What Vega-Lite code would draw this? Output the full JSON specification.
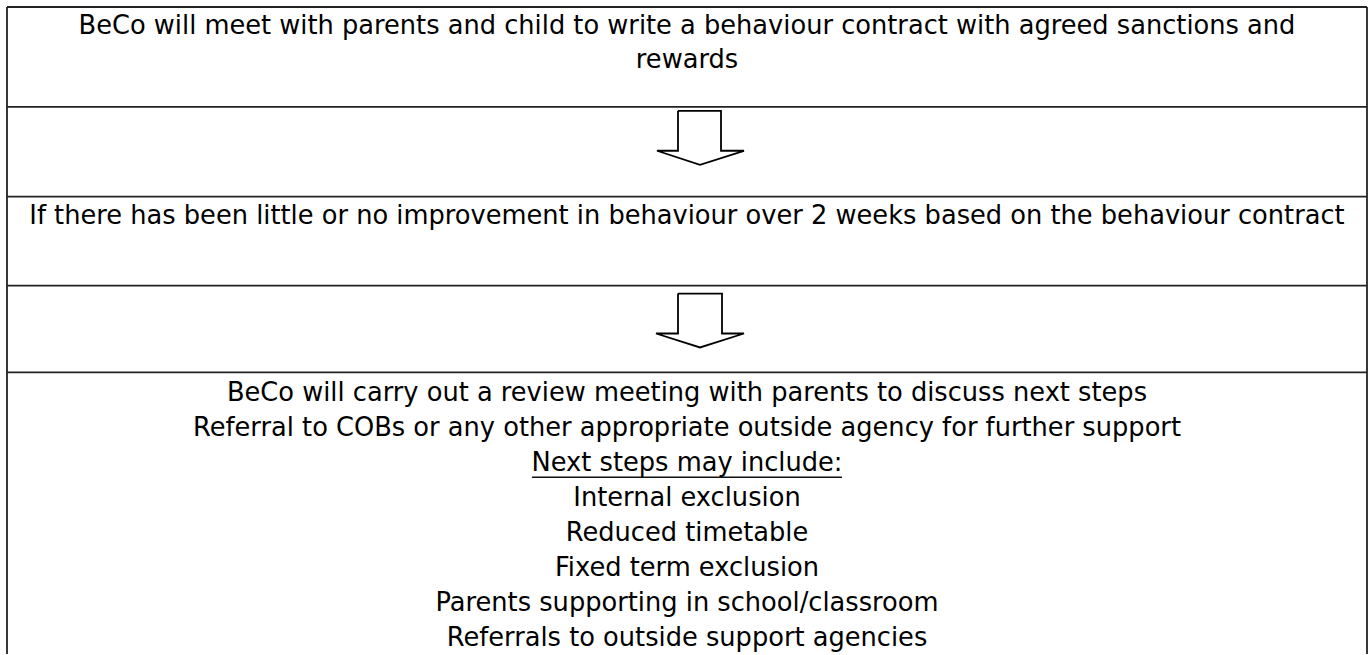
{
  "$schema": "https://vega.github.io/schema/vega-lite/v6.json",
  "width": 1370,
  "height": 655,
  "autosize": {"type": "fit", "contains": "padding"},
  "padding": 0,
  "background": "white",
  "config": {"view": {"stroke": null}},
  "datasets": {
    "rules": [
      {"x": 7, "x2": 1367, "y": 7, "y2": 7},
      {"x": 7, "x2": 7, "y": 7, "y2": 655},
      {"x": 1367, "x2": 1367, "y": 7, "y2": 655},
      {"x": 7, "x2": 1367, "y": 107, "y2": 107},
      {"x": 7, "x2": 1367, "y": 197, "y2": 197},
      {"x": 7, "x2": 1367, "y": 286, "y2": 286},
      {"x": 7, "x2": 1367, "y": 373, "y2": 373}
    ],
    "underline": [
      {"x": 532, "x2": 842, "y": 478, "y2": 478}
    ],
    "arrows": [
      {"arrow": "a", "i": 0, "x": 678, "y": 111},
      {"arrow": "a", "i": 1, "x": 721, "y": 111},
      {"arrow": "a", "i": 2, "x": 721, "y": 151},
      {"arrow": "a", "i": 3, "x": 744, "y": 151},
      {"arrow": "a", "i": 4, "x": 700, "y": 165},
      {"arrow": "a", "i": 5, "x": 657, "y": 151},
      {"arrow": "a", "i": 6, "x": 678, "y": 151},
      {"arrow": "a", "i": 7, "x": 678, "y": 111},
      {"arrow": "b", "i": 0, "x": 678, "y": 294},
      {"arrow": "b", "i": 1, "x": 722, "y": 294},
      {"arrow": "b", "i": 2, "x": 722, "y": 334},
      {"arrow": "b", "i": 3, "x": 744, "y": 334},
      {"arrow": "b", "i": 4, "x": 700, "y": 348},
      {"arrow": "b", "i": 5, "x": 656, "y": 334},
      {"arrow": "b", "i": 6, "x": 678, "y": 334},
      {"arrow": "b", "i": 7, "x": 678, "y": 294}
    ],
    "texts": [
      {"text": "BeCo will meet with parents and child to write a behaviour contract with agreed sanctions and", "x": 687, "y": 26},
      {"text": "rewards", "x": 687, "y": 60},
      {"text": "If there has been little or no improvement in behaviour over 2 weeks based on the behaviour contract", "x": 687, "y": 216},
      {"text": "BeCo will carry out a review meeting with parents to discuss next steps", "x": 687, "y": 394},
      {"text": "Referral to COBs or any other appropriate outside agency for further support", "x": 687, "y": 429},
      {"text": "Next steps may include:", "x": 687, "y": 464},
      {"text": "Internal exclusion", "x": 687, "y": 499},
      {"text": "Reduced timetable", "x": 687, "y": 534},
      {"text": "Fixed term exclusion", "x": 687, "y": 569},
      {"text": "Parents supporting in school/classroom", "x": 687, "y": 604},
      {"text": "Referrals to outside support agencies", "x": 687, "y": 639}
    ]
  },
  "layer": [
    {
      "data": {"name": "rules"},
      "mark": {"type": "rule", "color": "#222222", "strokeWidth": 1.8},
      "encoding": {
        "x": {"field": "x", "type": "quantitative", "scale": {"domain": [0, 1370], "nice": false, "zero": false}, "axis": null},
        "x2": {"field": "x2"},
        "y": {"field": "y", "type": "quantitative", "scale": {"domain": [0, 655], "nice": false, "zero": false, "reverse": true}, "axis": null},
        "y2": {"field": "y2"}
      }
    },
    {
      "data": {"name": "underline"},
      "mark": {"type": "rule", "color": "#111111", "strokeWidth": 1.3},
      "encoding": {
        "x": {"field": "x", "type": "quantitative", "axis": null},
        "x2": {"field": "x2"},
        "y": {"field": "y", "type": "quantitative", "axis": null},
        "y2": {"field": "y2"}
      }
    },
    {
      "data": {"name": "arrows"},
      "mark": {"type": "line", "color": "#000000", "strokeWidth": 1.8, "interpolate": "linear"},
      "encoding": {
        "x": {"field": "x", "type": "quantitative", "axis": null},
        "y": {"field": "y", "type": "quantitative", "axis": null},
        "detail": {"field": "arrow", "type": "nominal"},
        "order": {"field": "i", "type": "quantitative"}
      }
    },
    {
      "data": {"name": "texts"},
      "mark": {"type": "text", "font": "DejaVu Sans", "fontSize": 25.7, "color": "#000000", "align": "center", "baseline": "middle"},
      "encoding": {
        "x": {"field": "x", "type": "quantitative", "axis": null},
        "y": {"field": "y", "type": "quantitative", "axis": null},
        "text": {"field": "text", "type": "nominal"}
      }
    }
  ]
}
